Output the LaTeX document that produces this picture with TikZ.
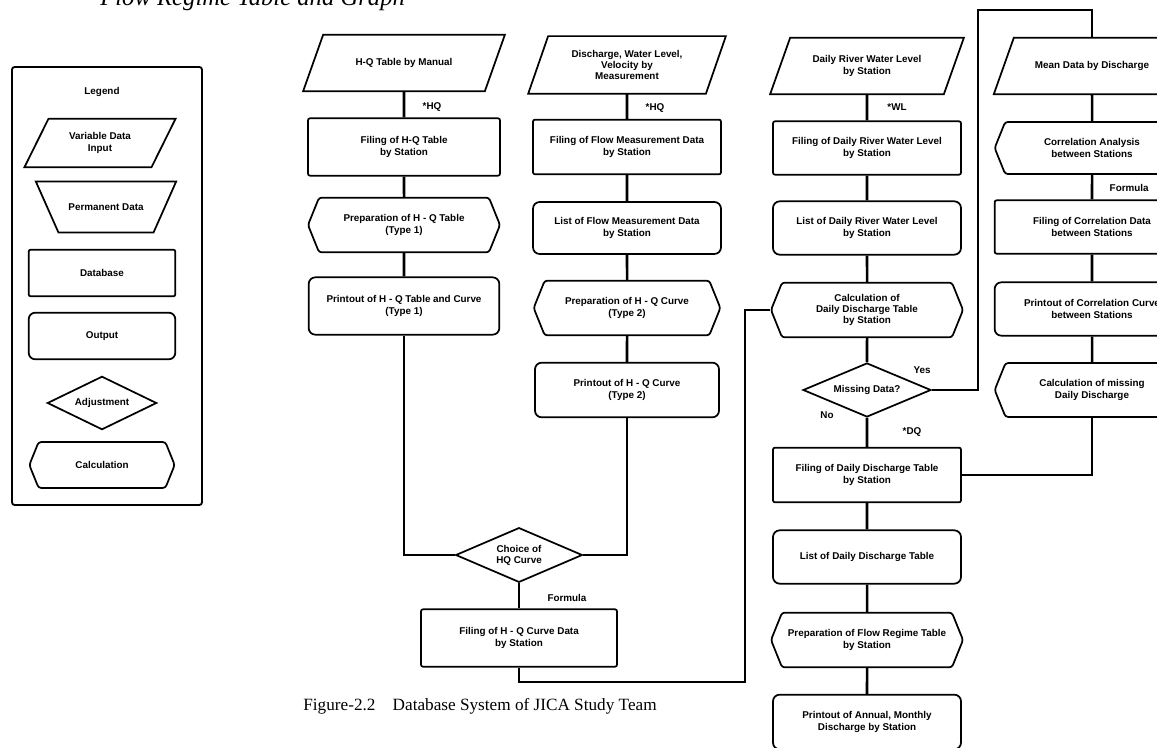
\documentclass[tikz,border=0pt]{standalone}
\usepackage{fontspec}
\setmainfont{Liberation Serif}
\newfontfamily\boxfont{Liberation Sans}
\usetikzlibrary{shapes.geometric,shapes.symbols}

\begin{document}
\begin{tikzpicture}[x=0.75pt, y=-0.75pt,
    base/.style={draw=black, line width=1.3pt, align=center, inner sep=2pt,
        font=\boxfont\bfseries\fontsize{7.4}{8.4}\selectfont},
    inputbox/.style={base, draw=none, rectangle,
        minimum width=#1, minimum height=41pt},
    inputbox/.default=146pt,
    slantbox/.style={append after command={\pgfextra{
        \draw[line width=1.3pt] ([xshift=#1]\tikzlastnode.north west)
            -- (\tikzlastnode.north east)
            -- ([xshift=-#1]\tikzlastnode.south east)
            -- (\tikzlastnode.south west) -- cycle;}}},
    slantbox/.default=15pt,
    permbox/.style={base, draw=none, rectangle,
        minimum width=104pt, minimum height=37pt,
        append after command={\pgfextra{
        \draw[line width=1.3pt] (\tikzlastnode.north west)
            -- (\tikzlastnode.north east)
            -- ([xshift=-17pt]\tikzlastnode.south east)
            -- ([xshift=17pt]\tikzlastnode.south west) -- cycle;}}},
    dbbox/.style={base, rectangle, rounded corners=1.5pt,
        minimum width=#1, minimum height=41pt},
    dbbox/.default=141pt,
    outbox/.style={base, rectangle, rounded corners=5pt,
        minimum width=#1, minimum height=41pt},
    outbox/.default=141pt,
    calcbox/.style={base, signal, signal to=west and east,
        signal pointer angle=136, rounded corners=2pt,
        minimum width=#1, minimum height=41pt},
    calcbox/.default=144pt,
    adjbox/.style={base, diamond, aspect=2.3, inner sep=0pt,
        minimum width=#1, minimum height=41pt},
    adjbox/.default=96pt,
    flag/.style={font=\boxfont\bfseries\fontsize{7.4}{8.4}\selectfont},
    link/.style={draw=black, line width=1.9pt},
    frame/.style={draw=black, line width=1.4pt, rounded corners=2pt},
]
\useasboundingbox (0,0) rectangle (1157,748);

% === Column positions ===
\def\colL{102}    % Legend
\def\colA{404}    % H-Q table
\def\colB{627}    % Flow measurement
\def\colE{519}    % Choice of curve
\def\colC{867}    % Daily water level
\def\colD{1092}   % Correlation

% === Heading (cut off by the page) ===
\node[font=\itshape\fontsize{18.5}{20}\selectfont, anchor=base west,
    inner sep=0pt] (heading) at (100, 6) {Flow Regime Table and Graph};

% === Legend ===
\draw[frame] (12, 67) rectangle (202, 505);
\node[flag] (lgtitle) at (\colL, 92) {Legend};
\node[inputbox=112pt, minimum height=35pt, slantbox=18pt] (lgin)
    at (100, 143) {Variable Data\\Input};
\node[permbox] (lgperm) at (106, 207) {Permanent Data};
\node[dbbox=110pt, minimum height=35pt] (lgdb) at (\colL, 273) {Database};
\node[outbox=110pt, minimum height=35pt] (lgout) at (\colL, 336) {Output};
\node[adjbox=82pt, minimum height=40pt] (lgadj) at (\colL, 403) {Adjustment};
\node[calcbox=109pt, minimum height=34.5pt] (lgcalc) at (\colL, 465)
    {Calculation};

% === Column A: H-Q table ===
\node[inputbox=150pt, slantbox] (hqin) at (\colA, 63) {H-Q Table by Manual};
\node[flag] (lblA) at (432, 107) {*HQ};
\node[dbbox=144pt, minimum height=43pt] (hqfile) at (\colA, 147)
    {Filing of H-Q Table\\by Station};
\node[calcbox] (hqprep) at (\colA, 225)
    {Preparation of H - Q Table\\(Type 1)};
\node[outbox=143pt, minimum height=43pt] (hqprint) at (\colA, 306)
    {Printout of H - Q Table and Curve\\(Type 1)};

% === Column B: flow measurement ===
\node[inputbox=147pt, minimum height=42pt, slantbox] (msin) at (\colB, 65)
    {Discharge, Water Level,\\Velocity by\\Measurement};
\node[flag] (lblB) at (655, 108) {*HQ};
\node[dbbox] (msfile) at (\colB, 147)
    {Filing of Flow Measurement Data\\by Station};
\node[outbox, minimum height=39pt] (mslist) at (\colB, 228)
    {List of Flow Measurement Data\\by Station};
\node[calcbox=140pt] (msprep) at (\colB, 308)
    {Preparation of H - Q Curve\\(Type 2)};
\node[outbox=138pt] (msprint) at (\colB, 390)
    {Printout of H - Q Curve\\(Type 2)};

% === Choice of curve ===
\node[adjbox=95pt] (choice) at (\colE, 555) {Choice of\\HQ Curve};
\node[flag] (lblF) at (567, 598) {Formula};
\node[dbbox=147pt, minimum height=43pt] (hqcurve) at (\colE, 638)
    {Filing of H - Q Curve Data\\by Station};

% === Column C: daily water level ===
\node[inputbox=144pt, slantbox] (wlin) at (\colC, 66)
    {Daily River Water Level\\by Station};
\node[flag] (lblC) at (897, 107) {*WL};
\node[dbbox, minimum height=40pt] (wlfile) at (\colC, 148)
    {Filing of Daily River Water Level\\by Station};
\node[outbox, minimum height=40pt] (wllist) at (\colC, 228)
    {List of Daily River Water Level\\by Station};
\node[calcbox] (dqcalc) at (\colC, 310)
    {Calculation of\\Daily Discharge Table\\by Station};
\node[adjbox, minimum height=40.5pt] (missing) at (\colC, 390)
    {Missing Data?};
\node[flag] (lblY) at (922, 370) {Yes};
\node[flag] (lblN) at (827, 415) {No};
\node[flag] (lblD) at (912, 432) {*DQ};
\node[dbbox] (dqfile) at (\colC, 475)
    {Filing of Daily Discharge Table\\by Station};
\node[outbox, minimum height=40pt] (dqlist) at (\colC, 557)
    {List of Daily Discharge Table};
\node[calcbox] (frprep) at (\colC, 640)
    {Preparation of Flow Regime Table\\by Station};
\node[outbox] (annprint) at (\colC, 722)
    {Printout of Annual, Monthly\\Discharge by Station};

% === Column D: correlation (cut off by the page) ===
\node[inputbox, slantbox] (mdin) at (\colD, 66) {Mean Data by Discharge};
\node[calcbox=146pt, minimum height=39pt] (corcalc) at (\colD, 148)
    {Correlation Analysis\\between Stations};
\node[flag, anchor=west] (lblG) at (1105, 188) {Formula};
\node[dbbox=146pt, minimum height=40pt] (corfile) at (\colD, 227)
    {Filing of Correlation Data\\between Stations};
\node[outbox=146pt, minimum height=40pt] (corprint) at (\colD, 309)
    {Printout of Correlation Curve\\between Stations};
\node[calcbox=146pt, minimum height=40.5pt] (misscalc) at (\colD, 390)
    {Calculation of missing\\Daily Discharge};

% === Connectors ===
\draw[link] (hqin) -- (hqfile) -- (hqprep) -- (hqprint);
\draw[link] (msin) -- (msfile) -- (mslist) -- (msprep) -- (msprint);
\draw[link] (hqprint) |- (choice.west);
\draw[link] (msprint) |- (choice.east);
\draw[link] (choice) -- (hqcurve);
\coordinate (loopA) at (745, 682);
\draw[link] (hqcurve) |- (loopA) |- (dqcalc.west);

\draw[link] (wlin) -- (wlfile) -- (wllist) -- (dqcalc) -- (missing)
    -- (dqfile) -- (dqlist) -- (frprep) -- (annprint);
\coordinate (loopB) at (978, 10);
\draw[link] (missing.east) -| (loopB) -| (mdin.north);

\draw[link] (mdin) -- (corcalc) -- (corfile) -- (corprint) -- (misscalc);
\draw[link] (misscalc) |- (dqfile.east);

% === Caption ===
\node[font=\fontsize{12.9}{15}\selectfont] (caption) at (480, 706)
    {Figure-2.2\quad Database System of JICA Study Team};

\end{tikzpicture}
\end{document}
